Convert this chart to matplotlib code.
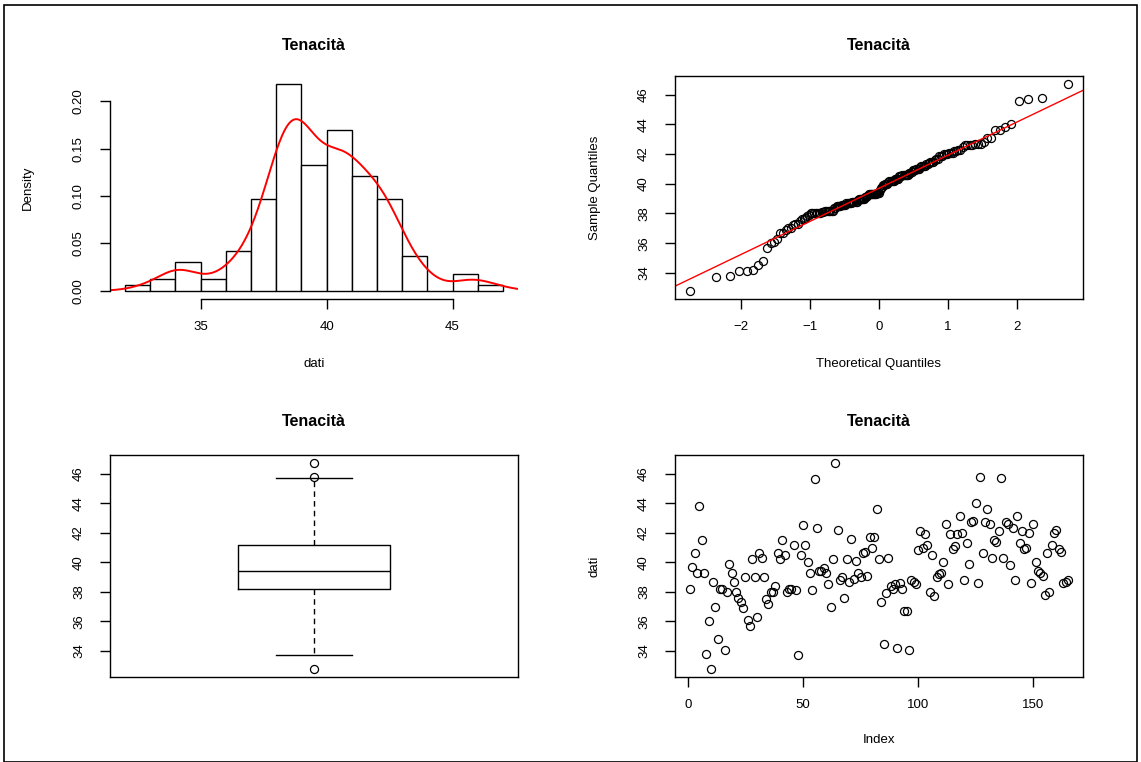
import numpy as np
import matplotlib
matplotlib.use("Agg")
import matplotlib.pyplot as plt
from matplotlib.patches import Rectangle
from statistics import NormalDist

plt.rcParams['font.family'] = ['Liberation Sans', 'DejaVu Sans']

# testi
titolo = "Tenacità"
etichetta_x_hist = "dati"
etichetta_y_hist = "Density"
etichetta_x_qq = "Theoretical Quantiles"
etichetta_y_qq = "Sample Quantiles"
etichetta_x_ind = "Index"
etichetta_y_ind = "dati"

# dati (in ordine di indice)
dati = np.array([
    38.2, 39.7, 40.6, 39.3, 43.8, 41.5, 39.3, 33.8, 36.0, 32.8,
    38.7, 37.0, 34.8, 38.2, 38.2, 34.1, 38.0, 39.9, 39.3, 38.7,
    38.0, 37.6, 37.3, 36.9, 39.0, 36.1, 35.7, 40.2, 39.0, 36.3,
    40.6, 40.3, 39.0, 37.5, 37.2,
    38.0, 38.0, 38.4, 40.6, 40.2, 41.5, 40.5, 38.0, 38.2, 38.2,
    41.2, 38.1, 33.7, 40.5, 42.5, 41.2, 40.0, 39.3, 38.1, 45.6,
    42.3, 39.4, 39.4, 39.6, 39.3, 38.5, 37.0, 40.2, 46.7, 42.2,
    38.8, 39.0, 37.6, 40.2, 38.7, 41.6, 38.9, 40.1, 39.3, 39.0,
    40.6, 40.7, 39.1, 41.7, 41.0, 41.7, 43.6, 40.2, 37.3,
    34.5, 37.9, 40.3, 38.4, 38.2, 38.5, 34.2, 38.6, 38.2, 36.7,
    36.7, 34.1, 38.8, 38.7, 38.5, 40.8, 42.1, 41.0, 41.9, 41.2,
    38.0, 40.5, 37.7, 39.0, 39.2, 39.3, 40.0, 42.6, 38.5, 41.9,
    40.9, 41.1, 41.9, 43.1, 42.0, 38.8, 41.3, 39.9, 42.7, 42.8,
    44.0, 38.6, 45.8, 40.6,
    42.7, 43.6, 42.6, 40.3, 41.5, 41.4, 42.1, 45.7, 40.3, 42.7,
    42.6, 39.8, 42.3, 38.8, 43.1, 41.3, 42.1, 40.9, 41.0, 42.0,
    38.6, 42.6, 40.0, 39.4, 39.3, 39.1, 37.8, 40.6, 38.0, 41.2,
    42.0, 42.2, 40.9, 40.7, 38.6, 38.7, 38.8,
])

breaks = np.arange(32, 48, 1)
tick_hist_x = [35, 40, 45]
tick_hist_y = [0.00, 0.05, 0.10, 0.15, 0.20]
tick_qq_x = [-2, -1, 0, 1, 2]
tick_y = [34, 36, 38, 40, 42, 44, 46]
tick_ind_x = [0, 50, 100, 150]

W, H = 1141, 762
fig = plt.figure(figsize=(W / 100, H / 100), dpi=100)


def riquadro(x0, y0, x1, y1):
    return [x0 / W, 1 - y1 / H, (x1 - x0) / W, (y1 - y0) / H]


def testo(x, y, s, **kw):
    fig.text(x / W, 1 - y / H, s, ha='center', va='center', **kw)


def rlim(lo, hi):
    d = (hi - lo) * 0.04
    return lo - d, hi + d


def stile(ax):
    ax.tick_params(direction='out', length=7, width=1, labelsize=9.5)
    ax.tick_params(axis='x', pad=9)
    ax.tick_params(axis='y', labelrotation=90, pad=11)
    for lab in ax.get_yticklabels():
        lab.set_va('center')
    for s in ax.spines.values():
        s.set_linewidth(1)


def fivenum(x):
    # cinque numeri di Tukey, come in R
    x = np.sort(x)
    m = len(x)
    n4 = np.floor((m + 3) / 2) / 2
    d = np.array([1, n4, (m + 1) / 2, m + 1 - n4, m]) - 1
    return 0.5 * (x[np.floor(d).astype(int)] + x[np.ceil(d).astype(int)])


n = len(dati)
ylim_dati = rlim(dati.min(), dati.max())

# --- istogramma con densità ---
ax1 = fig.add_axes(riquadro(110, 76, 518, 299))
pos = np.searchsorted(breaks, dati, side='left') - 1
conteggi = np.bincount(pos, minlength=len(breaks) - 1)
dens = conteggi / (n * np.diff(breaks))
ax1.bar(breaks[:-1], dens, width=np.diff(breaks), align='edge',
        facecolor='white', edgecolor='black', linewidth=1)

sd = dati.std(ddof=1)
q1, q3 = np.percentile(dati, [25, 75])
bw = 0.9 * min(sd, (q3 - q1) / 1.34) * n ** -0.2
xs = np.linspace(dati.min() - 3 * bw, dati.max() + 3 * bw, 512)
ys = np.exp(-0.5 * ((xs[:, None] - dati[None, :]) / bw) ** 2).sum(1) / (n * bw * np.sqrt(2 * np.pi))
ax1.plot(xs, ys, color='red', linewidth=1.4)

ax1.set_xlim(rlim(breaks[0], breaks[-1]))
ax1.set_ylim(rlim(0, dens.max()))
ax1.set_xticks(tick_hist_x)
ax1.set_yticks(tick_hist_y)
ax1.set_yticklabels([f"{v:.2f}" for v in tick_hist_y])
ax1.spines['top'].set_visible(False)
ax1.spines['right'].set_visible(False)
ax1.spines['bottom'].set_bounds(tick_hist_x[0], tick_hist_x[-1])
ax1.spines['left'].set_bounds(tick_hist_y[0], tick_hist_y[-1])
stile(ax1)

# --- normal QQ plot ---
ax2 = fig.add_axes(riquadro(675, 76, 1083, 299))
p = (np.arange(1, n + 1) - 0.5) / n
teorici = np.array([NormalDist().inv_cdf(v) for v in p])
campione = np.sort(dati)
ax2.plot(teorici, campione, 'o', mfc='none', mec='black', ms=5.8, mew=0.9)
z1, z3 = NormalDist().inv_cdf(0.25), NormalDist().inv_cdf(0.75)
pend = (q3 - q1) / (z3 - z1)
ax2.axline((0, q1 - pend * z1), slope=pend, color='red', linewidth=1)
ax2.set_xlim(rlim(teorici.min(), teorici.max()))
ax2.set_ylim(ylim_dati)
ax2.set_xticks(tick_qq_x)
ax2.set_yticks(tick_y)
stile(ax2)

# --- boxplot (statistiche alla R) ---
ax3 = fig.add_axes(riquadro(110, 455, 518, 677))
mn, h1, med, h3, mx = fivenum(dati)
iqr = h3 - h1
lo_f, hi_f = h1 - 1.5 * iqr - 1e-9, h3 + 1.5 * iqr + 1e-9
dentro = dati[(dati >= lo_f) & (dati <= hi_f)]
fuori = dati[(dati < lo_f) | (dati > hi_f)]
stats = [dict(med=med, q1=h1, q3=h3, whislo=dentro.min(), whishi=dentro.max(),
              fliers=fuori, label='')]
ax3.bxp(stats, positions=[1], widths=0.4, capwidths=0.2,
        medianprops=dict(color='black', linewidth=1),
        boxprops=dict(color='black', linewidth=1),
        whiskerprops=dict(color='black', linewidth=1, linestyle=(0, (4, 3))),
        capprops=dict(color='black', linewidth=1),
        flierprops=dict(marker='o', mfc='none', mec='black', ms=5.8, mew=0.9))
ax3.set_xlim(0.46, 1.54)
ax3.set_ylim(ylim_dati)
ax3.set_xticks([])
ax3.set_yticks(tick_y)
stile(ax3)

# --- grafico per indice ---
ax4 = fig.add_axes(riquadro(675, 455, 1083, 677))
indice = np.arange(1, n + 1)
ax4.plot(indice, dati, 'o', mfc='none', mec='black', ms=5.8, mew=0.9)
ax4.set_xlim(rlim(1, n))
ax4.set_ylim(ylim_dati)
ax4.set_xticks(tick_ind_x)
ax4.set_yticks(tick_y)
stile(ax4)

# titoli ed etichette
for cx, cy in [(314, 45), (879, 45), (314, 421), (879, 421)]:
    testo(cx, cy, titolo, fontsize=11.5, fontweight='bold')
testo(314, 364, etichetta_x_hist, fontsize=9.5)
testo(28, 188, etichetta_y_hist, fontsize=9.5, rotation=90)
testo(879, 364, etichetta_x_qq, fontsize=9.5)
testo(595, 188, etichetta_y_qq, fontsize=9.5, rotation=90)
testo(879, 740, etichetta_x_ind, fontsize=9.5)
testo(595, 566, etichetta_y_ind, fontsize=9.5, rotation=90)

fig.add_artist(Rectangle((4 / W, 0), 1133 / W, 1 - 5 / H, transform=fig.transFigure,
                         fill=False, edgecolor='black', linewidth=1.2))

fig.savefig("out.png", dpi=100)
